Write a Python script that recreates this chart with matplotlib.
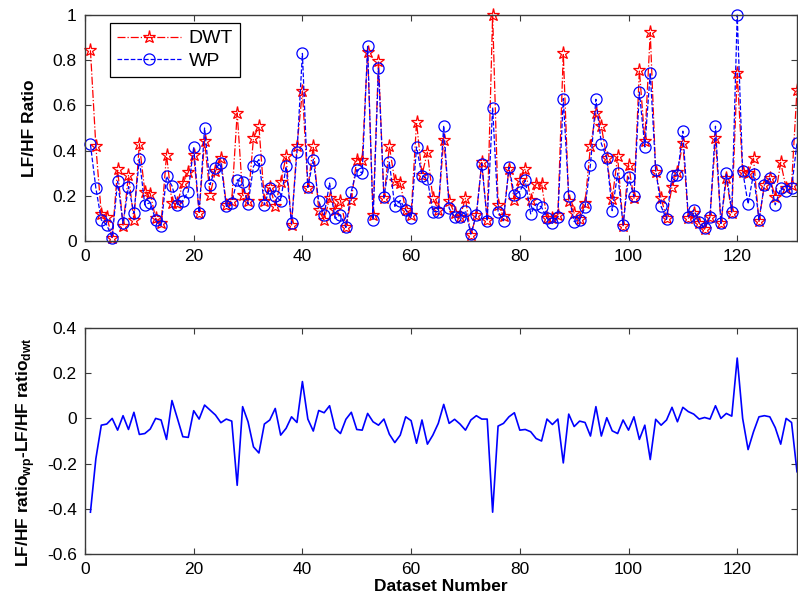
import numpy as np
import matplotlib
matplotlib.use("Agg")
import matplotlib.pyplot as plt

plt.rcParams['font.family'] = ['Liberation Sans', 'DejaVu Sans']
plt.rcParams['mathtext.fontset'] = 'custom'
plt.rcParams['mathtext.bf'] = 'Liberation Sans:bold'
plt.rcParams['mathtext.rm'] = 'Liberation Sans'

dwt = [0.844, 0.419, 0.12, 0.107, 0.015, 0.319, 0.067, 0.293, 0.093, 0.43,
       0.219, 0.21, 0.1, 0.078, 0.382, 0.17, 0.167, 0.256, 0.304, 0.382,
       0.126, 0.444, 0.204, 0.308, 0.367, 0.16, 0.179, 0.567, 0.204, 0.175,
       0.456, 0.508, 0.179, 0.241, 0.156, 0.259, 0.375, 0.071, 0.419, 0.664,
       0.234, 0.419, 0.135, 0.093, 0.189, 0.138, 0.179, 0.064, 0.182, 0.36,
       0.36, 0.837, 0.116, 0.797, 0.189, 0.419, 0.264, 0.256, 0.138, 0.116,
       0.526, 0.293, 0.393, 0.189, 0.138, 0.449, 0.175, 0.123, 0.107, 0.189,
       0.027, 0.116, 0.348, 0.093, 1.0, 0.16, 0.11, 0.32, 0.18, 0.27,
       0.319, 0.182, 0.253, 0.254, 0.1, 0.1, 0.116, 0.83, 0.175, 0.123,
       0.096, 0.167, 0.419, 0.567, 0.508, 0.367, 0.185, 0.375, 0.067, 0.338,
       0.189, 0.757, 0.441, 0.923, 0.307, 0.189, 0.1, 0.241, 0.307, 0.433,
       0.1, 0.123, 0.078, 0.052, 0.107, 0.456, 0.078, 0.278, 0.123, 0.742,
       0.304, 0.30, 0.366, 0.087, 0.249, 0.278, 0.196, 0.348, 0.234, 0.25,
       0.67]

wp = [0.427, 0.234, 0.093, 0.071, 0.015, 0.264, 0.078, 0.241, 0.123, 0.363,
      0.16, 0.17, 0.093, 0.067, 0.286, 0.244, 0.16, 0.179, 0.219, 0.416,
      0.126, 0.5, 0.249, 0.323, 0.344, 0.153, 0.17, 0.271, 0.259, 0.163,
      0.33, 0.36, 0.16, 0.234, 0.197, 0.179, 0.33, 0.078, 0.393, 0.83,
      0.237, 0.36, 0.175, 0.116, 0.256, 0.1, 0.116, 0.06, 0.219, 0.316,
      0.3, 0.861, 0.093, 0.767, 0.193, 0.348, 0.153, 0.179, 0.138, 0.1,
      0.416, 0.289, 0.274, 0.13, 0.13, 0.511, 0.145, 0.105, 0.107, 0.134,
      0.031, 0.116, 0.342, 0.09, 0.59, 0.13, 0.09, 0.327, 0.204, 0.219,
      0.268, 0.12, 0.164, 0.15, 0.1, 0.078, 0.107, 0.63, 0.2, 0.086,
      0.093, 0.15, 0.338, 0.627, 0.431, 0.367, 0.134, 0.3, 0.071, 0.283,
      0.197, 0.659, 0.416, 0.745, 0.313, 0.153, 0.096, 0.289, 0.293, 0.486,
      0.107, 0.138, 0.084, 0.056, 0.107, 0.508, 0.078, 0.3, 0.13, 1.0,
      0.31, 0.164, 0.298, 0.093, 0.249, 0.278, 0.16, 0.234, 0.22, 0.234,
      0.434]

diff = [-0.415, -0.178, -0.03, -0.025, 0.0, -0.052, 0.012, -0.049, 0.027, -0.071,
        -0.067, -0.047, 0.0, -0.007, -0.093, 0.079, 0.0, -0.081, -0.084, 0.034,
        -0.003, 0.059, 0.037, 0.015, -0.019, -0.003, -0.012, -0.296, 0.052, -0.015,
        -0.126, -0.153, -0.025, -0.007, 0.044, -0.074, -0.044, 0.007, -0.018, 0.163,
        -0.003, -0.056, 0.035, 0.025, 0.056, -0.044, -0.067, -0.004, 0.027, -0.049,
        -0.052, 0.022, -0.015, -0.03, -0.003, -0.07, -0.107, -0.074, 0.007, -0.01,
        -0.11, -0.007, -0.114, -0.074, -0.022, 0.062, -0.022, -0.004, -0.025, -0.052,
        -0.007, 0.012, -0.003, -0.003, -0.415, -0.034, -0.022, 0.007, 0.025, -0.052,
        -0.049, -0.059, -0.089, -0.1, -0.003, -0.027, -0.003, -0.197, 0.019, -0.036,
        -0.012, -0.018, -0.078, 0.052, -0.078, 0.003, -0.055, -0.067, -0.007, -0.052,
        0.007, -0.093, -0.03, -0.182, -0.004, -0.03, -0.007, 0.049, -0.015, 0.049,
        0.03, 0.019, -0.003, 0.004, -0.003, 0.056, 0.0, 0.022, 0.01, 0.267,
        0.0, -0.138, -0.059, 0.007, 0.012, 0.007, -0.041, -0.114, 0.0, -0.018,
        -0.236]

dataset = np.arange(1, len(dwt) + 1)
xticks = [0, 20, 40, 60, 80, 100, 120]

W, H = 798, 606
fig = plt.figure(figsize=(W / 100, H / 100), dpi=100)

def px_axes(left, top, right, bottom):
    return fig.add_axes([left / W, 1 - bottom / H, (right - left) / W, (bottom - top) / H])

spine_col = '#3a3a3a'

def style(ax):
    for s in ax.spines.values():
        s.set_color(spine_col)
        s.set_linewidth(1.0)
    ax.tick_params(direction='in', top=True, right=True, length=4, width=0.8,
                   color=spine_col, labelsize=12.5, pad=6)

ax1 = px_axes(85, 15, 797, 241)
ax1.plot(dataset, dwt, color='red', linestyle='-.', linewidth=0.9, marker='*',
         markersize=9.5, markerfacecolor='none', markeredgecolor='red',
         markeredgewidth=0.9, label='DWT', clip_on=False)
ax1.plot(dataset, wp, color='blue', linestyle='--', linewidth=0.9, marker='o',
         markersize=8, markerfacecolor='none', markeredgecolor='blue',
         markeredgewidth=0.9, label='WP', clip_on=False)
ax1.set_xlim(0, 131)
ax1.set_ylim(0, 1)
ax1.set_xticks(xticks)
ax1.set_yticks([0, 0.2, 0.4, 0.6, 0.8, 1])
ax1.set_yticklabels(['0', '0.2', '0.4', '0.6', '0.8', '1'])
ax1.set_ylabel('LF/HF Ratio', fontsize=12.5, fontweight='bold')
style(ax1)
leg = ax1.legend(loc='upper left', bbox_to_anchor=(0.035, 0.965), borderaxespad=0,
                 fontsize=14, frameon=True, fancybox=False, framealpha=1,
                 edgecolor='black', handlelength=3.3, borderpad=0.35,
                 labelspacing=0.25, handletextpad=0.4)
leg.get_frame().set_linewidth(0.9)

ax2 = px_axes(85, 328, 797, 554)
ax2.plot(dataset, diff, color='blue', linewidth=1.2)
ax2.set_xlim(0, 131)
ax2.set_ylim(-0.6, 0.4)
ax2.set_xticks(xticks)
ax2.set_yticks([-0.6, -0.4, -0.2, 0, 0.2, 0.4])
ax2.set_yticklabels(['-0.6', '-0.4', '-0.2', '0', '0.2', '0.4'])
ax2.set_xlabel('Dataset Number', fontsize=12.5, fontweight='bold', labelpad=1)
ax2.set_ylabel(r'LF/HF ratio$_{\mathbf{wp}}$-LF/HF ratio$_{\mathbf{dwt}}$',
               fontsize=12.5, fontweight='bold')
style(ax2)

ax1.yaxis.set_label_coords(-0.067, 0.5)
ax2.yaxis.set_label_coords(-0.067, 0.45)

fig.savefig('out.png', dpi=100)
